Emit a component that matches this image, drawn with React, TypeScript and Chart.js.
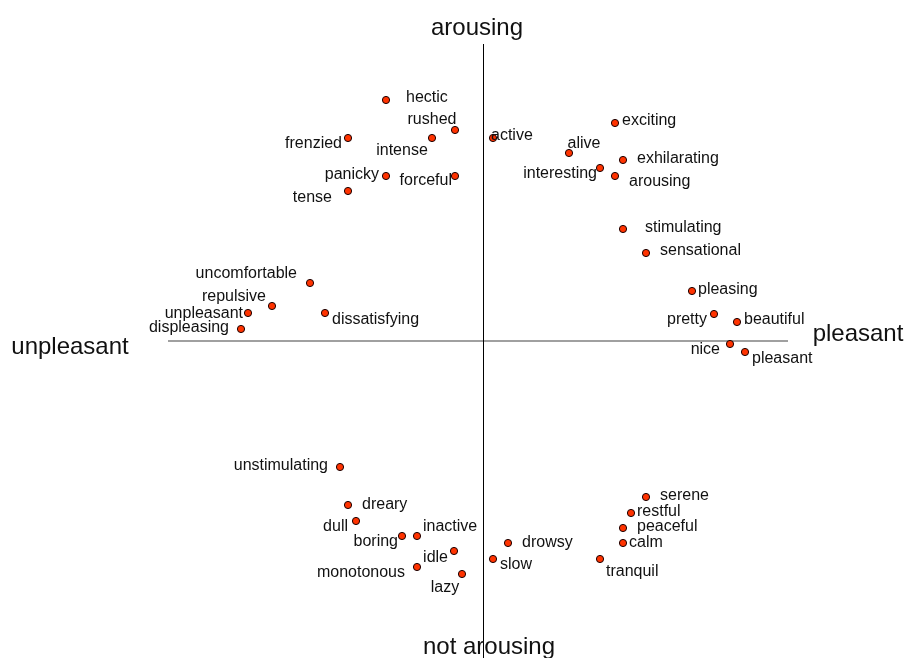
import React, { useEffect, useRef } from "react";
import { Chart, registerables } from "chart.js";

Chart.register(...registerables);

// Words (categories)
const words: string[] = [
  "hectic", "rushed", "frenzied", "intense", "panicky", "forceful", "tense",
  "active", "exciting", "alive", "exhilarating", "interesting", "arousing",
  "stimulating", "sensational", "pleasing", "pretty", "beautiful", "nice", "pleasant",
  "uncomfortable", "repulsive", "unpleasant", "displeasing", "dissatisfying",
  "unstimulating", "dreary", "dull", "boring", "inactive", "idle", "monotonous", "lazy",
  "slow", "drowsy", "tranquil", "calm", "peaceful", "restful", "serene",
];

// Pleasantness (x) values
const pleasantness: number[] = [
  -0.97, -0.28, -1.35, -0.51, -0.97, -0.28, -1.35,
  0.10, 1.32, 0.86, 1.40, 1.17, 1.32,
  1.40, 1.63, 2.09, 2.31, 2.54, 2.47, 2.62,
  -1.73, -2.11, -2.35, -2.42, -1.58,
  -1.43, -1.35, -1.27, -0.81, -0.66, -0.29, -0.66, -0.21,
  0.10, 0.25, 1.17, 1.40, 1.40, 1.48, 1.63,
];

// Arousal (y) values
const arousal: number[] = [
  2.41, 2.11, 2.03, 2.03, 1.65, 1.65, 1.50,
  2.03, 2.18, 1.88, 1.81, 1.73, 1.65,
  1.12, 0.88, 0.50, 0.27, 0.19, -0.03, -0.11,
  0.58, 0.35, 0.28, 0.12, 0.28,
  -1.26, -1.64, -1.80, -1.95, -1.95, -2.10, -2.26, -2.33,
  -2.18, -2.02, -2.18, -2.02, -1.87, -1.72, -1.56,
];

// Axis end labels and extents
const axisTitles: string[] = ["arousing", "not arousing", "unpleasant", "pleasant"];
const axisTitleX: number[] = [-0.06, 0.06, -4.13, 3.75];
const axisTitleY: number[] = [3.13, -3.06, -0.06, 0.07];
const hAxisRange: number[] = [-3.15, 3.05];
const vAxisRange: number[] = [-3.17, 2.97];

// Label placement (style): [align, dx, dy] in pixels
const labelPlacement: [CanvasTextAlign, number, number][] = [
  ["left", 20, -4], ["center", -23, -12], ["right", -6, 4], ["center", -30, 11],
  ["right", -7, -3], ["right", -3, 3], ["right", -16, 5],
  ["left", -2, -4], ["left", 7, -4], ["center", 15, -11], ["left", 14, -3],
  ["right", -3, 4], ["left", 14, 4],
  ["left", 22, -3], ["left", 14, -4], ["left", 6, -3], ["right", -7, 4],
  ["left", 7, -4], ["right", -10, 4], ["left", 7, 5],
  ["right", -13, -11], ["right", -6, -11], ["right", -5, -1], ["right", -12, -3],
  ["left", 7, 5],
  ["right", -12, -3], ["left", 14, -2], ["right", -8, 4], ["right", -4, 4],
  ["left", 6, -11], ["right", -6, 5], ["right", -12, 4], ["center", -17, 12],
  ["left", 7, 4], ["left", 14, -2], ["left", 6, 11], ["left", 6, -2],
  ["left", 14, -3], ["left", 6, -3], ["left", 14, -3],
];
const LABEL_SHIFT = 2;

const FONT = '"Liberation Sans", Arial, sans-serif';

const overlayPlugin = {
  id: "overlay",
  beforeDatasetsDraw(chart: any) {
    const { ctx, scales } = chart;
    const xs = scales.x;
    const ys = scales.y;
    ctx.save();
    // horizontal axis line
    ctx.strokeStyle = "#808080";
    ctx.lineWidth = 1.5;
    ctx.beginPath();
    ctx.moveTo(xs.getPixelForValue(hAxisRange[0]), ys.getPixelForValue(0));
    ctx.lineTo(xs.getPixelForValue(hAxisRange[1]), ys.getPixelForValue(0));
    ctx.stroke();
    // vertical axis line
    ctx.strokeStyle = "#000000";
    ctx.lineWidth = 1;
    const vx = Math.round(xs.getPixelForValue(0)) + 0.5;
    ctx.beginPath();
    ctx.moveTo(vx, ys.getPixelForValue(vAxisRange[1]));
    ctx.lineTo(vx, ys.getPixelForValue(vAxisRange[0]));
    ctx.stroke();
    ctx.restore();
  },
  afterDatasetsDraw(chart: any) {
    const { ctx, scales } = chart;
    const xs = scales.x;
    const ys = scales.y;
    ctx.save();
    ctx.fillStyle = "#111111";
    ctx.textBaseline = "middle";
    ctx.font = `16px ${FONT}`;
    for (let i = 0; i < words.length; i++) {
      const [align, dx, dy] = labelPlacement[i];
      ctx.textAlign = align;
      const px = xs.getPixelForValue(pleasantness[i]);
      const py = ys.getPixelForValue(arousal[i]);
      ctx.fillText(words[i], px + dx, py + dy + LABEL_SHIFT);
    }
    ctx.font = `24px ${FONT}`;
    ctx.textAlign = "center";
    for (let i = 0; i < axisTitles.length; i++) {
      ctx.fillText(
        axisTitles[i],
        xs.getPixelForValue(axisTitleX[i]),
        ys.getPixelForValue(axisTitleY[i])
      );
    }
    ctx.restore();
  },
};

export default function App() {
  const canvasRef = useRef<HTMLCanvasElement | null>(null);

  useEffect(() => {
    document.body.style.margin = "0";
    const canvas = canvasRef.current;
    if (!canvas) return;
    const chart = new Chart(canvas, {
      type: "scatter",
      data: {
        datasets: [
          {
            label: "words",
            data: words.map((_, i) => ({ x: pleasantness[i], y: arousal[i] })),
            backgroundColor: "#ff3300",
            borderColor: "#1a0000",
            borderWidth: 1,
            pointRadius: 3.6,
          },
        ],
      },
      options: {
        animation: false,
        responsive: false,
        maintainAspectRatio: false,
        layout: { padding: 0, autoPadding: false },
        plugins: {
          legend: { display: false },
          tooltip: { enabled: false },
          title: { display: false },
        },
        scales: {
          x: { type: "linear", min: -4.83, max: 4.25, display: false },
          y: { type: "linear", min: -3.17, max: 3.41, display: false },
        },
      },
      plugins: [overlayPlugin],
    });
    return () => chart.destroy();
  }, []);

  return (
    <div style={{ position: "absolute", left: 0, top: 0, width: 908, height: 658, background: "#fff" }}>
      <canvas ref={canvasRef} width={908} height={658} style={{ display: "block" }} />
    </div>
  );
}
